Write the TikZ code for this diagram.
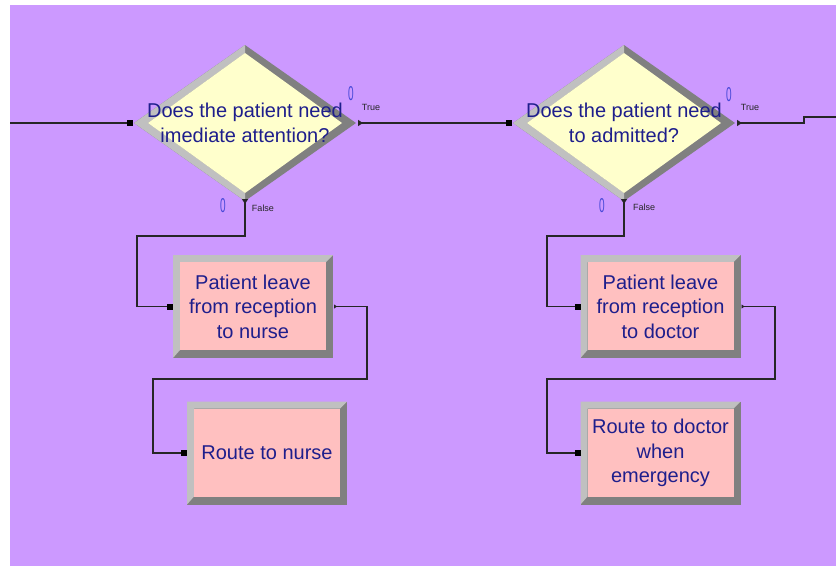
\documentclass[tikz,border=0pt]{standalone}
\usepackage{fontspec}
\setmainfont{Liberation Sans}
\usepackage{graphicx}
\usetikzlibrary{shapes.geometric,arrows.meta}

\definecolor{canvas}{HTML}{CC99FF}
\definecolor{decfill}{HTML}{FFFFCC}
\definecolor{procfill}{HTML}{FFC0C0}
\definecolor{bevlight}{HTML}{C0C0C0}
\definecolor{bevdark}{HTML}{808080}
\definecolor{labnavy}{HTML}{1E1E8C}
\definecolor{countblue}{HTML}{4848D8}
\definecolor{portdark}{HTML}{262626}

\tikzset{
  conn/.style={draw=portdark, line width=1.2pt},
  extip/.style={{Triangle[reversed,length=5pt,width=6pt]}-},
  smalltip/.style={{Triangle[reversed,length=3pt,width=4pt]}-},
  entrysq/.style={fill=black, minimum width=6pt, minimum height=6pt,
    inner sep=0pt, outer sep=0pt, anchor=east},
  bigtext/.style={text=labnavy, align=center,
    font=\fontsize{20}{24.5}\selectfont},
  countlab/.style={text=countblue, inner sep=0pt,
    font=\fontsize{20}{20}\selectfont},
  branchlab/.style={text=portdark, inner sep=0pt,
    font=\fontsize{9}{9}\selectfont},
  decision/.style={diamond, minimum width=222pt, minimum height=156pt,
    inner sep=0pt, outer sep=0pt, fill=bevdark,
    path picture={
      \fill[bevlight] (path picture bounding box.west)
        -- (path picture bounding box.north)
        -- ([yshift=-8pt]path picture bounding box.north)
        -- ([xshift=14pt]path picture bounding box.west)
        -- ([yshift=8pt]path picture bounding box.south)
        -- (path picture bounding box.south) -- cycle;
      \fill[decfill] ([xshift=14pt]path picture bounding box.west)
        -- ([yshift=-8pt]path picture bounding box.north)
        -- ([xshift=-14pt]path picture bounding box.east)
        -- ([yshift=8pt]path picture bounding box.south) -- cycle;
    }},
  process/.style={rectangle, minimum width=160pt, minimum height=103pt,
    inner sep=0pt, outer sep=0pt, fill=bevdark, bigtext,
    path picture={
      \fill[bevlight] (path picture bounding box.south west)
        -- (path picture bounding box.north west)
        -- (path picture bounding box.north east)
        -- ([shift={(-7pt,-7pt)}]path picture bounding box.north east)
        -- ([shift={(7pt,-7pt)}]path picture bounding box.north west)
        -- ([shift={(7pt,8pt)}]path picture bounding box.south west) -- cycle;
      \fill[procfill] ([shift={(7pt,-7pt)}]path picture bounding box.north west)
        rectangle ([shift={(-7pt,8pt)}]path picture bounding box.south east);
    }},
}
\newcommand{\cnt}{\scalebox{0.5}[1]{0}}

\begin{document}
\begin{tikzpicture}[x=1pt, y=-1pt]
  % canvas
  \fill[white] (0,0) rectangle (836,566);
  \fill[canvas] (10,5) rectangle (836,566);
  \useasboundingbox (0,0) rectangle (836,566);

  % decisions
  \node[decision] (d1) at (245,123) {};
  \node[bigtext] (d1txt) at (d1.center) {Does the patient need\\imediate attention?};
  \node[decision] (d2) at (624,123) {};
  \node[bigtext] (d2txt) at (d2.center) {Does the patient need\\to admitted?};

  % processes
  \node[process] (b1) at (253,306.5) {Patient leave\\from reception\\to nurse};
  \node[process] (b2) at (267,453) {Route to nurse};
  \node[process] (b3) at (660.5,306.5) {Patient leave\\from reception\\to doctor};
  \node[process] (b4) at (660.5,453) {Route to doctor\\when\\emergency};

  % entry points
  \node[entrysq] (d1in) at ([xshift=-1pt]d1.west) {};
  \node[entrysq] (d2in) at ([xshift=-1pt]d2.west) {};
  \node[entrysq] (b1in) at (b1.west) {};
  \node[entrysq] (b2in) at (b2.west) {};
  \node[entrysq] (b3in) at (b3.west) {};
  \node[entrysq] (b4in) at (b4.west) {};

  % counters and branch labels
  \node[countlab] (d1c1) at ([shift={(-5,-29)}]d1.east) {\cnt};
  \node[branchlab] (d1t) at ([shift={(15,-16)}]d1.east) {True};
  \node[countlab] (d1c2) at ([shift={(-22,5)}]d1.south) {\cnt};
  \node[branchlab] (d1f) at ([shift={(18,7)}]d1.south) {False};
  \node[countlab] (d2c1) at ([shift={(-6,-28)}]d2.east) {\cnt};
  \node[branchlab] (d2t) at ([shift={(15,-16)}]d2.east) {True};
  \node[countlab] (d2c2) at ([shift={(-22,5)}]d2.south) {\cnt};
  \node[branchlab] (d2f) at ([shift={(20,6)}]d2.south) {False};

  % free ends and bends
  \coordinate (src) at (10,123);
  \coordinate (sink) at (836,117);
  \coordinate (j1) at (804,123);
  \coordinate (k1) at (137,236);
  \coordinate (k2) at (367,379);
  \coordinate (k3) at (153,379);
  \coordinate (k4) at (547,236);
  \coordinate (k5) at (775,379);
  \coordinate (k6) at (547,379);

  % connectors
  \draw[conn] (src) -- (d1in);
  \draw[conn, extip] ([xshift=2pt]d1.east) -- (d2in);
  \draw[conn, extip] ([xshift=2pt]d2.east) -- (j1) |- (sink);
  \draw[conn, extip] ([yshift=2pt]d1.south) |- (k1) |- (b1in);
  \draw[conn, smalltip] ([xshift=1pt]b1.east) -| (k2) -- (k3) |- (b2in);
  \draw[conn, extip] ([yshift=2pt]d2.south) |- (k4) |- (b3in);
  \draw[conn, smalltip] ([xshift=1pt]b3.east) -| (k5) -- (k6) |- (b4in);
\end{tikzpicture}
\end{document}
